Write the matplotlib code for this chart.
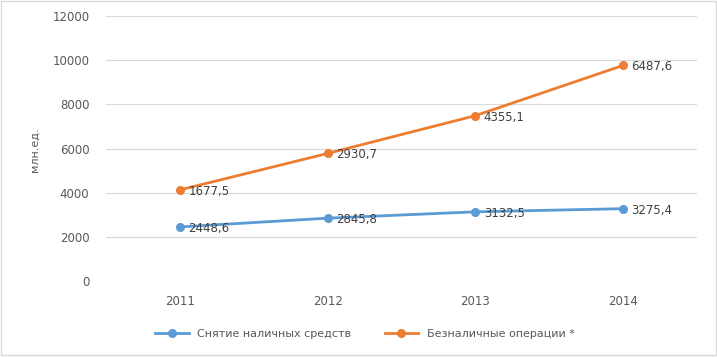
import matplotlib.pyplot as plt

# Данные (накопительный график)
годы = ["2011", "2012", "2013", "2014"]
снятие = [2448.6, 2845.8, 3132.5, 3275.4]
безнал = [1677.5, 2930.7, 4355.1, 6487.6]

СИНИЙ = "#5b9bd5"
ОРАНЖ = "#ed7d31"
СЕРЫЙ = "#595959"

fig = plt.figure(figsize=(7.17, 3.57), dpi=100)
ax = fig.add_axes([106 / 717, 1 - 281 / 357, 591 / 717, 265 / 357])

x = list(range(len(годы)))
верх = [a + b for a, b in zip(снятие, безнал)]

ax.plot(x, снятие, color=СИНИЙ, lw=2, marker="o", ms=5.5, label="Снятие наличных средств")
ax.plot(x, верх, color=ОРАНЖ, lw=2, marker="o", ms=5.5, label="Безналичные операции *")

def fmt(v):
    return f"{v:.1f}".replace(".", ",")

for xi, y, v in zip(x, снятие, снятие):
    ax.annotate(fmt(v), (xi, y), xytext=(6, -1), textcoords="offset points",
                ha="left", va="center", fontsize=8.5, color="#404040")
for xi, y, v in zip(x, верх, безнал):
    ax.annotate(fmt(v), (xi, y), xytext=(6, -1), textcoords="offset points",
                ha="left", va="center", fontsize=8.5, color="#404040")

ax.set_xlim(-0.5, 3.5)
ax.set_ylim(0, 12000)
ax.set_yticks(range(0, 12001, 2000))
ax.set_xticks(x)
ax.set_xticklabels(годы)
ax.grid(axis="y", color="#d9d9d9", lw=0.8)
ax.set_axisbelow(True)
for s in ax.spines.values():
    s.set_visible(False)
ax.tick_params(length=0, colors=СЕРЫЙ, labelsize=8.5)
ax.tick_params(axis="y", pad=12)
ax.tick_params(axis="x", pad=10)
fig.text(35 / 717, 1 - 150 / 357, "млн.ед.", rotation=90, ha="center", va="center",
         color=СЕРЫЙ, fontsize=8)

fig.legend(loc="center", bbox_to_anchor=(365 / 717, 1 - 334 / 357), ncol=2,
           frameon=False, fontsize=8, labelcolor=СЕРЫЙ, handlelength=3,
           columnspacing=3)

# Рамка вокруг рисунка
fig.patches.append(plt.Rectangle((0.001, 0.005), 0.997, 0.993, transform=fig.transFigure,
                                 fill=False, edgecolor="#d9d9d9", lw=1))

fig.savefig("out.png", dpi=100)
